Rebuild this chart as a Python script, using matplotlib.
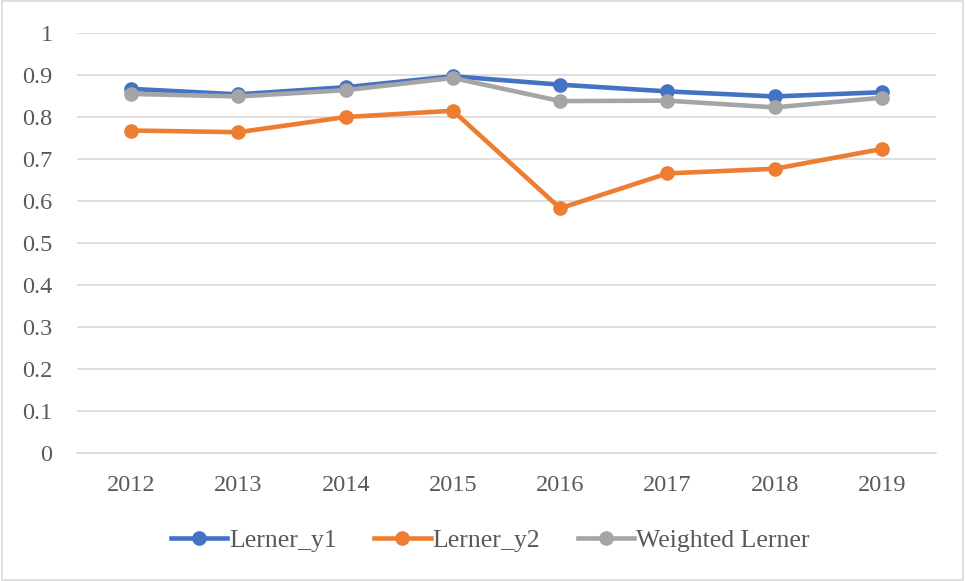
"""
Lerner index by year, three series
"""
import matplotlib.pyplot as plt
import numpy as np

years = ['2012', '2013', '2014', '2015', '2016', '2017', '2018', '2019']
lerner_y1 = [0.866, 0.853, 0.870, 0.896, 0.876, 0.860, 0.848, 0.858]
lerner_y2 = [0.767, 0.763, 0.799, 0.814, 0.582, 0.665, 0.676, 0.723]
weighted = [0.854, 0.848, 0.863, 0.892, 0.837, 0.838, 0.822, 0.845]

plt.rcParams['font.family'] = ['Liberation Serif', 'DejaVu Serif']
txt = '#595959'

fig = plt.figure(figsize=(9.65, 5.81), dpi=100)
ax = fig.add_axes([0.0803, 0.2203, 0.8892, 0.7237])

x = np.arange(len(years))
ax.plot(x, lerner_y2, '-o', color='#ED7D31', lw=3.3, ms=9.5, label='Lerner_y2', zorder=3)
ax.plot(x, lerner_y1, '-o', color='#4472C4', lw=3.3, ms=9.5, label='Lerner_y1', zorder=4)
ax.plot(x, weighted, '-o', color='#A5A5A5', lw=3.3, ms=9.5, label='Weighted Lerner', zorder=5)

ax.set_xlim(-0.5, len(years) - 0.5)
ax.set_ylim(0, 1)
ax.set_xticks(x)
ax.set_xticklabels(years)
ax.set_yticks(np.arange(0, 1.01, 0.1))
ax.set_yticklabels(['0'] + [f'{v:.1f}' for v in np.arange(0.1, 0.95, 0.1)] + ['1'])
ax.grid(axis='y', color='#D9D9D9', lw=1.2)
ax.set_axisbelow(True)
for s in ['top', 'right', 'left']:
    ax.spines[s].set_visible(False)
ax.spines['bottom'].set_color('#D9D9D9')
ax.spines['bottom'].set_linewidth(1.2)
ax.tick_params(length=0, labelsize=17.5, colors=txt)
ax.tick_params(axis='x', pad=16)
ax.tick_params(axis='y', pad=18)

h, l = ax.get_legend_handles_labels()
order = [1, 0, 2]
fig.legend([h[i] for i in order], [l[i] for i in order], loc='center',
           bbox_to_anchor=(0.508, 0.07), ncol=3, frameon=False, fontsize=18.5,
           labelcolor=txt, handlelength=2.2, handletextpad=0.08, columnspacing=1.45)

fig.patches.append(plt.Rectangle((0.002, 0.002), 0.996, 0.996, transform=fig.transFigure,
                                 fill=False, edgecolor='#D9D9D9', lw=1.2))

plt.savefig('out.png', dpi=100)
plt.close()
